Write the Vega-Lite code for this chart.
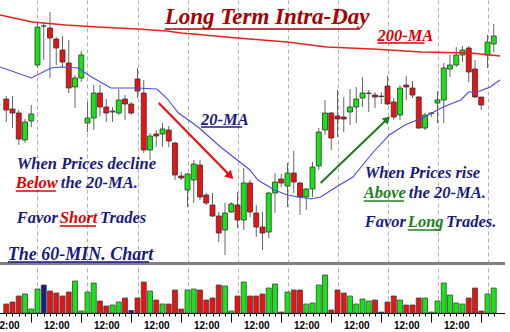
{
  "$schema": "https://vega.github.io/schema/vega-lite/v6.json",
  "padding": {"left": -7, "top": 0, "right": 0, "bottom": 0},
  "background": "white",
  "config": {"view": {"stroke": null}},
  "spacing": 4,
  "resolve": {"scale": {"color": "independent"}},
  "datasets": {
    "bars": [
      {"i":0,"o":164,"c":153,"h":167,"l":141,"v":9,"vc":"down"},
      {"i":1,"o":154,"c":150,"h":167,"l":135,"v":11,"vc":"down"},
      {"i":2,"o":150,"c":124,"h":153,"l":118,"v":17,"vc":"down"},
      {"i":3,"o":123,"c":141,"h":144,"l":120,"v":19,"vc":"up"},
      {"i":4,"o":142,"c":149,"h":158,"l":136,"v":4,"vc":"up"},
      {"i":5,"o":198,"c":236,"h":240,"l":195,"v":24,"vc":"up"},
      {"i":6,"o":237,"c":237,"h":241,"l":203,"v":28,"vc":"even"},
      {"i":7,"o":235,"c":225,"h":251,"l":185,"v":22,"vc":"down"},
      {"i":8,"o":224,"c":215,"h":226,"l":198,"v":20,"vc":"down"},
      {"i":9,"o":213,"c":201,"h":227,"l":196,"v":17,"vc":"down"},
      {"i":10,"o":200,"c":175,"h":223,"l":170,"v":21,"vc":"down"},
      {"i":11,"o":176,"c":185,"h":188,"l":155,"v":32,"vc":"up"},
      {"i":12,"o":185,"c":208,"h":212,"l":181,"v":2,"vc":"up"},
      {"i":13,"o":140,"c":145,"h":161,"l":131,"v":21,"vc":"up"},
      {"i":14,"o":145,"c":170,"h":178,"l":133,"v":30,"vc":"up"},
      {"i":15,"o":170,"c":156,"h":178,"l":147,"v":12,"vc":"down"},
      {"i":16,"o":156,"c":150,"h":164,"l":141,"v":7,"vc":"down"},
      {"i":17,"o":151,"c":152,"h":156,"l":141,"v":8,"vc":"up"},
      {"i":18,"o":150,"c":163,"h":174,"l":148,"v":11,"vc":"up"},
      {"i":19,"o":164,"c":159,"h":168,"l":143,"v":15,"vc":"down"},
      {"i":20,"o":159,"c":150,"h":161,"l":148,"v":2.5,"vc":"even"},
      {"i":21,"o":184,"c":172,"h":195,"l":165,"v":15,"vc":"down"},
      {"i":22,"o":170,"c":113,"h":183,"l":110,"v":31,"vc":"down"},
      {"i":23,"o":113,"c":127,"h":130,"l":103,"v":22,"vc":"up"},
      {"i":24,"o":129,"c":127,"h":133,"l":116,"v":13,"vc":"down"},
      {"i":25,"o":129,"c":134,"h":140,"l":116,"v":9,"vc":"up"},
      {"i":26,"o":133,"c":122,"h":137,"l":116,"v":9,"vc":"down"},
      {"i":27,"o":120,"c":88,"h":121,"l":83,"v":23,"vc":"down"},
      {"i":28,"o":87,"c":85,"h":91,"l":83,"v":4,"vc":"down"},
      {"i":29,"o":73,"c":89,"h":90,"l":56,"v":23,"vc":"up"},
      {"i":30,"o":83,"c":99,"h":103,"l":60,"v":24,"vc":"up"},
      {"i":31,"o":98,"c":66,"h":103,"l":63,"v":23,"vc":"down"},
      {"i":32,"o":68,"c":60,"h":70,"l":58,"v":13,"vc":"down"},
      {"i":33,"o":58,"c":47,"h":70,"l":46,"v":15,"vc":"down"},
      {"i":34,"o":47,"c":30,"h":51,"l":21,"v":28,"vc":"down"},
      {"i":35,"o":33,"c":50,"h":60,"l":8,"v":27,"vc":"up"},
      {"i":36,"o":51,"c":59,"h":61,"l":50,"v":2,"vc":"up"},
      {"i":37,"o":58,"c":43,"h":71,"l":35,"v":17,"vc":"down"},
      {"i":38,"o":43,"c":80,"h":95,"l":33,"v":31,"vc":"up"},
      {"i":39,"o":80,"c":51,"h":83,"l":46,"v":17,"vc":"down"},
      {"i":40,"o":50,"c":36,"h":58,"l":26,"v":17,"vc":"down"},
      {"i":41,"o":36,"c":30,"h":51,"l":13,"v":19,"vc":"down"},
      {"i":42,"o":31,"c":70,"h":71,"l":25,"v":25,"vc":"up"},
      {"i":43,"o":70,"c":81,"h":90,"l":50,"v":29,"vc":"up"},
      {"i":44,"o":84,"c":80,"h":89,"l":76,"v":1,"vc":"down"},
      {"i":45,"o":77,"c":90,"h":100,"l":56,"v":21,"vc":"up"},
      {"i":46,"o":90,"c":81,"h":112,"l":70,"v":23,"vc":"down"},
      {"i":47,"o":80,"c":66,"h":81,"l":48,"v":23,"vc":"down"},
      {"i":48,"o":66,"c":74,"h":75,"l":53,"v":9,"vc":"up"},
      {"i":49,"o":74,"c":96,"h":101,"l":66,"v":10,"vc":"up"},
      {"i":50,"o":97,"c":131,"h":135,"l":93,"v":28,"vc":"up"},
      {"i":51,"o":133,"c":150,"h":163,"l":128,"v":38,"vc":"up"},
      {"i":52,"o":150,"c":125,"h":151,"l":113,"v":3,"vc":"down"},
      {"i":53,"o":147,"c":144,"h":173,"l":126,"v":23,"vc":"down"},
      {"i":54,"o":146,"c":144,"h":166,"l":131,"v":20,"vc":"down"},
      {"i":55,"o":151,"c":156,"h":174,"l":138,"v":17,"vc":"up"},
      {"i":56,"o":156,"c":164,"h":176,"l":140,"v":9,"vc":"up"},
      {"i":57,"o":165,"c":170,"h":186,"l":156,"v":14,"vc":"up"},
      {"i":58,"o":169.5,"c":170,"h":173,"l":151,"v":12,"vc":"up"},
      {"i":59,"o":168,"c":166,"h":171,"l":155,"v":13,"vc":"down"},
      {"i":60,"o":167,"c":166.5,"h":171,"l":159,"v":1,"vc":"even"},
      {"i":61,"o":177,"c":159,"h":187,"l":158,"v":11,"vc":"down"},
      {"i":62,"o":161,"c":146,"h":165,"l":143,"v":17,"vc":"down"},
      {"i":63,"o":148,"c":175,"h":178,"l":143,"v":13,"vc":"up"},
      {"i":64,"o":178,"c":176,"h":187,"l":163,"v":8,"vc":"down"},
      {"i":65,"o":175,"c":168,"h":182,"l":165,"v":8,"vc":"down"},
      {"i":66,"o":166,"c":135,"h":167,"l":134,"v":15,"vc":"down"},
      {"i":67,"o":135,"c":148,"h":150,"l":133,"v":15,"vc":"up"},
      {"i":68,"o":149.5,"c":150,"h":151,"l":146,"v":1,"vc":"up"},
      {"i":69,"o":160,"c":163,"h":172,"l":140,"v":12,"vc":"up"},
      {"i":70,"o":163,"c":195,"h":200,"l":140,"v":30,"vc":"up"},
      {"i":71,"o":194,"c":198,"h":208,"l":186,"v":18,"vc":"up"},
      {"i":72,"o":198,"c":208,"h":216,"l":196,"v":10,"vc":"up"},
      {"i":73,"o":208,"c":213,"h":217,"l":201,"v":9,"vc":"up"},
      {"i":74,"o":215,"c":191,"h":217,"l":181,"v":15,"vc":"down"},
      {"i":75,"o":194,"c":166,"h":203,"l":165,"v":25,"vc":"down"},
      {"i":76,"o":166,"c":158,"h":166,"l":153,"v":2,"vc":"down"},
      {"i":77,"o":208,"c":221,"h":228,"l":195,"v":19,"vc":"up"},
      {"i":78,"o":219,"c":227,"h":239,"l":211,"v":25,"vc":"up"}
    ],
    "ma": [
      {"m":"200","i":-1,"p":248},{"m":"200","i":4.18,"p":241},{"m":"200","i":9.51,"p":238},
      {"m":"200","i":14.69,"p":236},{"m":"200","i":20.96,"p":234},{"m":"200","i":25.67,"p":232},
      {"m":"200","i":28.02,"p":230},{"m":"200","i":36.96,"p":225},{"m":"200","i":44.96,"p":221},
      {"m":"200","i":51.24,"p":216},{"m":"200","i":58.61,"p":214},{"m":"200","i":66.45,"p":211},
      {"m":"200","i":74.29,"p":210},{"m":"200","i":79,"p":207},
      {"m":"20","i":-1,"p":196},{"m":"20","i":4.02,"p":185},{"m":"20","i":7.16,"p":195},
      {"m":"20","i":8.88,"p":196},{"m":"20","i":11.55,"p":195},{"m":"20","i":13.12,"p":188},
      {"m":"20","i":16.73,"p":175},{"m":"20","i":20.96,"p":175},{"m":"20","i":24.1,"p":174},
      {"m":"20","i":25.67,"p":165},{"m":"20","i":27.55,"p":150},{"m":"20","i":30.69,"p":136},
      {"m":"20","i":34.29,"p":116},{"m":"20","i":36.96,"p":103},{"m":"20","i":39.0,"p":93},
      {"m":"20","i":40.25,"p":83},{"m":"20","i":42.92,"p":73},{"m":"20","i":44.96,"p":68},
      {"m":"20","i":48.73,"p":64},{"m":"20","i":50.29,"p":66},{"m":"20","i":52.8,"p":76},
      {"m":"20","i":55.47,"p":86},{"m":"20","i":58.61,"p":110},{"m":"20","i":61.27,"p":128},
      {"m":"20","i":63.78,"p":138},{"m":"20","i":66.92,"p":146},{"m":"20","i":69.9,"p":156},
      {"m":"20","i":72.73,"p":163},{"m":"20","i":73.98,"p":171},{"m":"20","i":75.39,"p":171},
      {"m":"20","i":77.43,"p":176},{"m":"20","i":79,"p":183}
    ],
    "arrows": [
      {"a":"red","part":"tail","i":24.4,"p":160},
      {"a":"red","part":"tip","i":35.86,"p":87},
      {"a":"green","part":"tail","i":50.3,"p":80},
      {"a":"green","part":"tip","i":60.96,"p":144}
    ],
    "notes": [
      {"t":"Long Term Intra-Day","i":25.35,"p":239,"k":"title"},
      {"t":"200-MA","i":59.39,"p":222,"k":"ma200"},
      {"t":"20-MA","i":31.16,"p":138,"k":"ma20"},
      {"t":"When Prices decline","i":1.67,"p":94,"k":"note"},
      {"t":"Below","i":1.51,"p":75,"k":"short"},
      {"t":"the 20-MA.","i":8.73,"p":75,"k":"note"},
      {"t":"Favor","i":1.67,"p":40,"k":"note"},
      {"t":"Short","i":8.57,"p":40,"k":"short"},
      {"t":"Trades","i":15.0,"p":40,"k":"note"},
      {"t":"The 60-MIN. Chart","i":0.25,"p":3,"k":"chart"},
      {"t":"When Prices rise","i":57.35,"p":85,"k":"note"},
      {"t":"Above","i":57.2,"p":65,"k":"long"},
      {"t":"the 20-MA.","i":64.41,"p":65,"k":"note"},
      {"t":"Favor","i":57.35,"p":36,"k":"note"},
      {"t":"Long","i":64.25,"p":36,"k":"long"},
      {"t":"Trades.","i":70.37,"p":36,"k":"note"}
    ],
    "underlines": [
      {"i":25.35,"i2":56.57,"p":234,"k":"title"},
      {"i":59.39,"i2":66.92,"p":220,"k":"ma200"},
      {"i":31.16,"i2":37.75,"p":136,"k":"ma20"},
      {"i":1.51,"i2":7.94,"p":72,"k":"short"},
      {"i":8.57,"i2":14.37,"p":37,"k":"short"},
      {"i":0.25,"i2":22.84,"p":1,"k":"chart"},
      {"i":57.2,"i2":63.63,"p":62,"k":"long"},
      {"i":64.25,"i2":69.59,"p":33,"k":"long"}
    ]
  },
  "vconcat": [
    {
      "width": 510,
      "height": 263,
      "layer": [
        {
          "data": {"name": "bars"},
          "mark": {"type": "rule", "color": "#666666", "strokeWidth": 1},
          "encoding": {
            "x": {"field": "i", "type": "quantitative",
                  "scale": {"domain": [-1, 79], "nice": false, "zero": false},
                  "axis": {"values": [5,13,21,29,37,45,53,61,69,77], "grid": true, "gridDash": [4,3],
                           "gridColor": "#b0b0b0", "labels": false, "ticks": false, "domain": true,
                           "domainColor": "#808080", "domainWidth": 3, "title": null}},
            "y": {"field": "l", "type": "quantitative", "scale": {"domain": [0, 263], "nice": false, "zero": false}, "axis": null},
            "y2": {"field": "h"}
          }
        },
        {
          "data": {"name": "bars"},
          "mark": {"type": "bar", "size": 5, "stroke": "#333333", "strokeWidth": 0.8},
          "encoding": {
            "x": {"field": "i", "type": "quantitative"},
            "y": {"field": "o", "type": "quantitative"},
            "y2": {"field": "c"},
            "color": {"condition": [{"test": "datum.c > datum.o", "value": "#14e614"},
                                    {"test": "datum.c < datum.o", "value": "#ec1212"}],
                      "value": "#1a1a80"}
          }
        },
        {
          "data": {"name": "ma"},
          "transform": [{"filter": "datum.m == '200'"}],
          "mark": {"type": "line", "color": "#e82020", "strokeWidth": 1.3},
          "encoding": {"x": {"field": "i", "type": "quantitative"}, "y": {"field": "p", "type": "quantitative"}}
        },
        {
          "data": {"name": "ma"},
          "transform": [{"filter": "datum.m == '20'"}],
          "mark": {"type": "line", "color": "#4a4ae0", "strokeWidth": 1.1},
          "encoding": {"x": {"field": "i", "type": "quantitative"}, "y": {"field": "p", "type": "quantitative"}}
        },
        {
          "data": {"name": "arrows"},
          "transform": [{"filter": "datum.a == 'red'"}],
          "mark": {"type": "line", "color": "#ee1010", "strokeWidth": 2.2},
          "encoding": {"x": {"field": "i", "type": "quantitative"}, "y": {"field": "p", "type": "quantitative"}}
        },
        {
          "data": {"name": "arrows"},
          "transform": [{"filter": "datum.a == 'green'"}],
          "mark": {"type": "line", "color": "#1e7a1e", "strokeWidth": 2},
          "encoding": {"x": {"field": "i", "type": "quantitative"}, "y": {"field": "p", "type": "quantitative"}}
        },
        {
          "data": {"name": "arrows"},
          "transform": [{"filter": "datum.a == 'red' && datum.part == 'tip'"}],
          "mark": {"type": "point", "shape": "triangle-up", "filled": true, "color": "#ee1010", "size": 90, "angle": 135, "opacity": 1},
          "encoding": {"x": {"field": "i", "type": "quantitative"}, "y": {"field": "p", "type": "quantitative"}}
        },
        {
          "data": {"name": "arrows"},
          "transform": [{"filter": "datum.a == 'green' && datum.part == 'tip'"}],
          "mark": {"type": "point", "shape": "triangle-up", "filled": true, "color": "#1e7a1e", "size": 70, "angle": 47, "opacity": 1},
          "encoding": {"x": {"field": "i", "type": "quantitative"}, "y": {"field": "p", "type": "quantitative"}}
        },
        {
          "data": {"name": "underlines"},
          "mark": {"type": "rule", "strokeWidth": 1.5},
          "encoding": {
            "x": {"field": "i", "type": "quantitative"},
            "x2": {"field": "i2"},
            "y": {"field": "p", "type": "quantitative"},
            "color": {"field": "k", "type": "nominal", "legend": null,
                      "scale": {"domain": ["title","ma200","ma20","note","short","long","chart"],
                                "range": ["#a80000","#e00000","#1a1a80","#1a1a80","#e00000","#208020","#1a1a80"]}}
          }
        },
        {
          "data": {"name": "notes"},
          "transform": [{"filter": "datum.k == 'title'"}],
          "mark": {"type": "text", "align": "left", "baseline": "alphabetic", "font": "Liberation Serif",
                   "fontStyle": "italic", "fontWeight": "bold", "fontSize": 23},
          "encoding": {
            "x": {"field": "i", "type": "quantitative"},
            "y": {"field": "p", "type": "quantitative"},
            "text": {"field": "t"},
            "color": {"field": "k", "type": "nominal", "legend": null}
          }
        },
        {
          "data": {"name": "notes"},
          "transform": [{"filter": "datum.k == 'chart'"}],
          "mark": {"type": "text", "align": "left", "baseline": "alphabetic", "font": "Liberation Serif",
                   "fontStyle": "italic", "fontWeight": "bold", "fontSize": 18},
          "encoding": {
            "x": {"field": "i", "type": "quantitative"},
            "y": {"field": "p", "type": "quantitative"},
            "text": {"field": "t"},
            "color": {"field": "k", "type": "nominal", "legend": null}
          }
        },
        {
          "data": {"name": "notes"},
          "transform": [{"filter": "datum.k != 'title' && datum.k != 'chart'"}],
          "mark": {"type": "text", "align": "left", "baseline": "alphabetic", "font": "Liberation Serif",
                   "fontStyle": "italic", "fontWeight": "bold", "fontSize": 16.5},
          "encoding": {
            "x": {"field": "i", "type": "quantitative"},
            "y": {"field": "p", "type": "quantitative"},
            "text": {"field": "t"},
            "color": {"field": "k", "type": "nominal", "legend": null}
          }
        }
      ]
    },
    {
      "width": 510,
      "height": 45,
      "data": {"name": "bars"},
      "mark": {"type": "bar", "size": 5, "stroke": "#444444", "strokeWidth": 0.8},
      "encoding": {
        "x": {"field": "i", "type": "quantitative",
              "scale": {"domain": [-1, 79], "nice": false, "zero": false},
              "axis": {"values": [0,1,2,3,4,5,6,7,8,9,10,11,12,13,14,15,16,17,18,19,20,21,22,23,24,25,26,27,28,29,30,31,32,33,34,35,36,37,38,39,40,41,42,43,44,45,46,47,48,49,50,51,52,53,54,55,56,57,58,59,60,61,62,63,64,65,66,67,68,69,70,71,72,73,74,75,76,77,78],
                       "grid": true, "gridDash": [4,3], "gridColor": "#b0b0b0",
                       "gridOpacity": {"condition": {"test": "datum.value % 8 == 5", "value": 1}, "value": 0},
                       "tickSize": {"condition": {"test": "datum.value % 8 == 4", "value": 9}, "value": 3},
                       "tickColor": "#000000", "domainColor": "#000000",
                       "labelExpr": "datum.value % 8 == 0 ? '12:00' : ''",
                       "labelOverlap": false, "labelFont": "Liberation Sans", "labelFontWeight": "bold",
                       "labelFontSize": 10, "labelColor": "#000000", "labelPadding": 4, "title": null}},
        "y": {"field": "v", "type": "quantitative", "scale": {"domain": [0, 45], "nice": false}, "axis": null},
        "color": {"condition": [{"test": "datum.vc == 'up'", "value": "#14e614"},
                                {"test": "datum.vc == 'down'", "value": "#ec1212"}],
                  "value": "#1a1a80"}
      }
    }
  ]
}
